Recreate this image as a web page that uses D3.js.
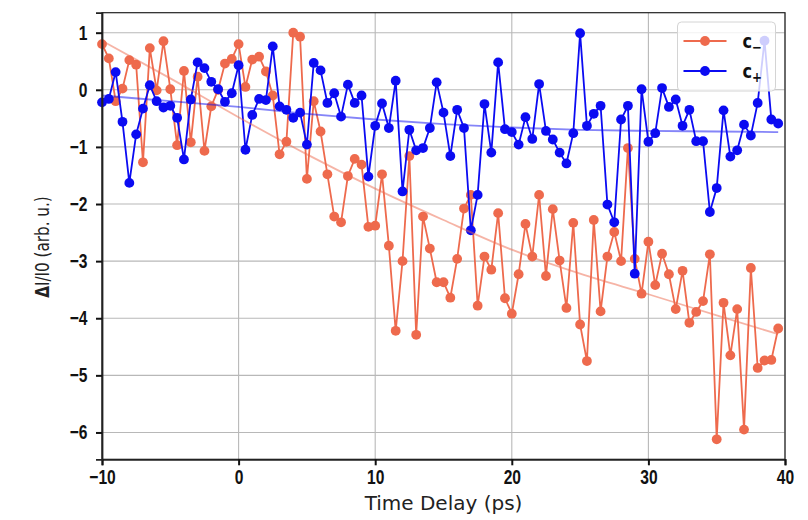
<!DOCTYPE html>
<html>
<head>
<meta charset="utf-8">
<script src="https://cdn.jsdelivr.net/npm/d3@7"></script>
<style>
  body { margin: 0; background: #fff; }
  svg { display: block; }
</style>
</head>
<body>
<div id="chart"></div>
<script>
// time delays (ps)
var time = [-10, -9.5, -9, -8.5, -8, -7.5, -7, -6.5, -6, -5.5, -5, -4.5, -4, -3.5, -3, -2.5, -2, -1.5, -1, -0.5,
  0, 0.5, 1, 1.5, 2, 2.5, 3, 3.5, 4, 4.5, 5, 5.5, 6, 6.5, 7, 7.5, 8, 8.5, 9, 9.5,
  10, 10.5, 11, 11.5, 12, 12.5, 13, 13.5, 14, 14.5, 15, 15.5, 16, 16.5, 17, 17.5, 18, 18.5, 19, 19.5,
  20, 20.5, 21, 21.5, 22, 22.5, 23, 23.5, 24, 24.5, 25, 25.5, 26, 26.5, 27, 27.5, 28, 28.5, 29, 29.5,
  30, 30.5, 31, 31.5, 32, 32.5, 33, 33.5, 34, 34.5, 35, 35.5, 36, 36.5, 37, 37.5, 38, 38.5, 39, 39.5];

// c- series
var cMinus = [0.80, 0.55, -0.20, 0.02, 0.52, 0.44, -1.27, 0.73, -0.01, 0.85, 0.01, -0.97, 0.33, -0.92, 0.23, -1.07, -0.29, 0.00, 0.46, 0.54,
  0.80, 0.05, 0.53, 0.58, 0.32, -0.10, -1.13, -0.91, 1.00, 0.93, -1.56, -0.20, -0.73, -1.48, -2.22, -2.32, -1.51, -1.21, -1.31, -2.40,
  -2.38, -1.48, -2.73, -4.22, -3.00, -1.16, -4.29, -2.22, -2.78, -3.37, -3.37, -3.64, -2.96, -2.08, -1.84, -3.78, -2.92, -3.15, -2.16, -3.65,
  -3.92, -3.23, -2.35, -2.92, -1.84, -3.26, -2.09, -2.99, -3.82, -2.33, -4.11, -4.75, -2.28, -3.88, -2.92, -2.49, -3.00, -1.02, -2.96, -3.57,
  -2.66, -3.42, -2.87, -3.23, -3.84, -3.17, -4.08, -3.89, -3.70, -2.88, -6.12, -3.73, -4.65, -3.84, -5.95, -3.12, -4.87, -4.74, -4.73, -4.18];

// c+ series
var cPlus = [-0.22, -0.16, 0.31, -0.56, -1.63, -0.78, -0.33, 0.08, -0.20, -0.31, -0.28, -0.49, -1.22, -0.17, 0.48, 0.38, 0.14, 0.01, -0.21, -0.06,
  0.43, -1.05, -0.44, -0.16, -0.18, 0.76, -0.29, -0.35, -0.49, -0.40, -0.96, 0.47, 0.34, -0.23, -0.06, -0.47, 0.09, -0.23, -0.10, -1.52,
  -0.63, -0.24, -0.67, 0.16, -1.78, -0.70, -1.06, -1.02, -0.67, 0.13, -0.40, -1.16, -0.35, -0.67, -2.46, -1.84, -0.25, -1.10, 0.48, -0.69,
  -0.74, -0.96, -0.48, -0.86, 0.10, -0.72, -0.87, -1.10, -1.29, -0.76, 0.99, -0.63, -0.42, -0.28, -2.01, -2.32, -0.52, -0.28, -3.22, 0.01,
  -0.91, -0.76, 0.03, -0.30, -0.17, -0.63, -0.35, -0.90, -0.90, -2.14, -1.72, -0.36, -1.17, -1.06, -0.61, -0.80, -0.23, 0.86, -0.52, -0.59];

// fitted curves
var fitTime = [-10, -5, 0, 5, 10, 15, 20, 25, 30, 35, 39.5];
var fitMinus = [0.86, 0.20, -0.48, -1.13, -1.73, -2.28, -2.80, -3.22, -3.58, -3.95, -4.28];
var fitPlus = [-0.10, -0.20, -0.30, -0.42, -0.52, -0.60, -0.66, -0.70, -0.72, -0.73, -0.74];

var xTicks = [-10, 0, 10, 20, 30, 40];
var yTicks = [1, 0, -1, -2, -3, -4, -5, -6];

var red = "#ee6a4d";
var blue = "#0b0bf2";

var W = 808, H = 520;
var margin = { top: 12.7, right: 23, bottom: 60.7, left: 102 };
var width = W - margin.left - margin.right;
var height = H - margin.top - margin.bottom;

var svg = d3.select("#chart").append("svg")
  .attr("width", W)
  .attr("height", H)
  .style("font-family", "'DejaVu Sans', sans-serif");

var g = svg.append("g")
  .attr("transform", "translate(" + margin.left + "," + margin.top + ")");

var x = d3.scaleLinear().domain([-10, 40]).range([0, width]);
var y = d3.scaleLinear().domain([-6.47, 1.35]).range([height, 0]);

// grid
g.append("g").selectAll("line")
  .data(xTicks)
  .enter().append("line")
  .attr("x1", function(d) { return x(d); })
  .attr("x2", function(d) { return x(d); })
  .attr("y1", 0)
  .attr("y2", height)
  .style("stroke", "#b8b8b8")
  .style("stroke-width", 1.1);

g.append("g").selectAll("line")
  .data(yTicks)
  .enter().append("line")
  .attr("x1", 0)
  .attr("x2", width)
  .attr("y1", function(d) { return y(d); })
  .attr("y2", function(d) { return y(d); })
  .style("stroke", "#b8b8b8")
  .style("stroke-width", 1.1);

var line = d3.line()
  .x(function(d) { return x(d[0]); })
  .y(function(d) { return y(d[1]); });

var fitLine = d3.line()
  .curve(d3.curveMonotoneX)
  .x(function(d) { return x(d[0]); })
  .y(function(d) { return y(d[1]); });

function drawSeries(values, color) {
  var pts = time.map(function(t, i) { return [t, values[i]]; });
  g.append("path")
    .datum(pts)
    .attr("d", line)
    .style("fill", "none")
    .style("stroke", color)
    .style("stroke-width", 1.8);
  g.append("g").selectAll("circle")
    .data(pts)
    .enter().append("circle")
    .attr("cx", function(d) { return x(d[0]); })
    .attr("cy", function(d) { return y(d[1]); })
    .attr("r", 4.9)
    .style("fill", color);
}

drawSeries(cMinus, red);
drawSeries(cPlus, blue);

// fit lines
g.append("path")
  .datum(fitTime.map(function(t, i) { return [t, fitMinus[i]]; }))
  .attr("d", fitLine)
  .style("fill", "none")
  .style("stroke", red)
  .style("stroke-opacity", 0.5)
  .style("stroke-width", 1.8);

g.append("path")
  .datum(fitTime.map(function(t, i) { return [t, fitPlus[i]]; }))
  .attr("d", fitLine)
  .style("fill", "none")
  .style("stroke", blue)
  .style("stroke-opacity", 0.5)
  .style("stroke-width", 1.8);

// frame
g.append("rect")
  .attr("width", width)
  .attr("height", height)
  .style("fill", "none")
  .style("stroke", "#222")
  .style("stroke-width", 1.2);

// axes
var xAxis = g.append("g")
  .attr("transform", "translate(0," + height + ")")
  .call(d3.axisBottom(x).tickValues(xTicks).tickSize(6).tickPadding(5));

var yAxis = g.append("g")
  .call(d3.axisLeft(y).tickValues(yTicks).tickSize(6));

[xAxis, yAxis].forEach(function(ax) {
  ax.select(".domain").style("stroke", "#222").style("stroke-width", 1.8);
  ax.selectAll(".tick line").style("stroke", "#111").style("stroke-width", 2);
  ax.selectAll(".tick text")
    .style("font-size", "20px")
    .style("font-weight", "bold")
    .style("fill", "#111")
    .attr("transform", "scale(0.78,1)");
});
yAxis.selectAll(".tick text").attr("x", -18.6);

// axis labels
svg.append("text")
  .attr("x", margin.left + width / 2)
  .attr("y", 510)
  .attr("text-anchor", "middle")
  .style("font-size", "20px")
  .style("fill", "#222")
  .text("Time Delay (ps)");

var yl = svg.append("text")
  .attr("transform", "translate(49,247) rotate(-90) scale(0.76,1)")
  .attr("text-anchor", "middle")
  .style("font-size", "20px")
  .style("fill", "#222");
yl.append("tspan").style("font-weight", "bold").text("Δ");
yl.append("tspan").text("I/I0 (arb. u.)");

// legend
var legendItems = [
  { name: "c", sub: "−", color: red },
  { name: "c", sub: "+", color: blue }
];

var legend = svg.append("g").attr("transform", "translate(677.5,22)");
legend.append("rect")
  .attr("width", 98)
  .attr("height", 69)
  .attr("rx", 4)
  .style("fill", "#fff")
  .style("fill-opacity", 0.8)
  .style("stroke", "#d4d4d4")
  .style("stroke-width", 1);

var li = legend.selectAll(".li")
  .data(legendItems)
  .enter().append("g")
  .attr("transform", function(d, i) { return "translate(0," + (19 + i * 30) + ")"; });

li.append("line")
  .attr("x1", 6).attr("x2", 49)
  .style("stroke", function(d) { return d.color; })
  .style("stroke-width", 1.8);
li.append("circle")
  .attr("cx", 27.5).attr("r", 4.9)
  .style("fill", function(d) { return d.color; });

var lt = li.append("text")
  .attr("transform", "translate(65,7) scale(0.85,1)")
  .style("font-weight", "bold")
  .style("font-size", "19px")
  .style("fill", "#111");
lt.append("tspan").text(function(d) { return d.name; });
lt.append("tspan")
  .attr("dy", 4)
  .style("font-size", "14px")
  .text(function(d) { return d.sub; });
</script>
</body>
</html>
